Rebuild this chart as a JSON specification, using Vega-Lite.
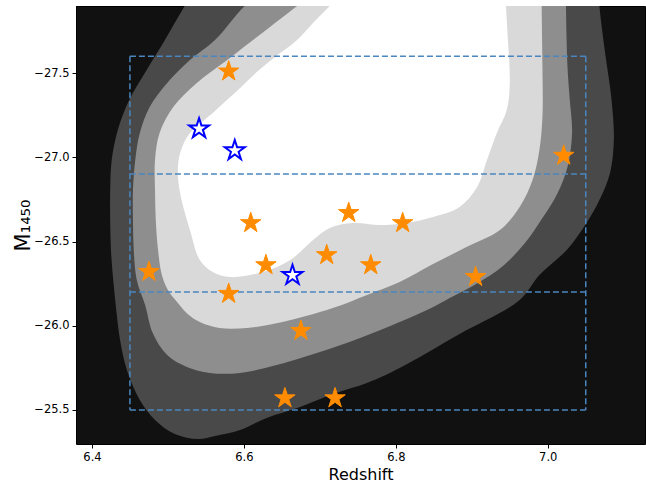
{
  "$schema": "https://vega.github.io/schema/vega-lite/v6.json",
  "width": 569,
  "height": 438,
  "autosize": {"type": "none"},
  "padding": {"left": 76, "top": 6, "right": 1, "bottom": 43},
  "background": "white",
  "view": {"fill": "#111111", "stroke": null},
  "datasets": {
    "contours": [
      {"level": 1, "i": 1, "z": 6.543, "M": -28.052},
      {"level": 1, "i": 2, "z": 6.522, "M": -27.898},
      {"level": 1, "i": 3, "z": 6.496, "M": -27.696},
      {"level": 1, "i": 4, "z": 6.472, "M": -27.518},
      {"level": 1, "i": 5, "z": 6.449, "M": -27.340},
      {"level": 1, "i": 6, "z": 6.434, "M": -27.162},
      {"level": 1, "i": 7, "z": 6.426, "M": -26.984},
      {"level": 1, "i": 8, "z": 6.424, "M": -26.806},
      {"level": 1, "i": 9, "z": 6.424, "M": -26.628},
      {"level": 1, "i": 10, "z": 6.425, "M": -26.450},
      {"level": 1, "i": 11, "z": 6.428, "M": -26.272},
      {"level": 1, "i": 12, "z": 6.432, "M": -26.093},
      {"level": 1, "i": 13, "z": 6.437, "M": -25.915},
      {"level": 1, "i": 14, "z": 6.446, "M": -25.737},
      {"level": 1, "i": 15, "z": 6.463, "M": -25.559},
      {"level": 1, "i": 16, "z": 6.483, "M": -25.441},
      {"level": 1, "i": 17, "z": 6.509, "M": -25.358},
      {"level": 1, "i": 18, "z": 6.540, "M": -25.328},
      {"level": 1, "i": 19, "z": 6.562, "M": -25.346},
      {"level": 1, "i": 20, "z": 6.595, "M": -25.381},
      {"level": 1, "i": 21, "z": 6.630, "M": -25.453},
      {"level": 1, "i": 22, "z": 6.674, "M": -25.518},
      {"level": 1, "i": 23, "z": 6.717, "M": -25.595},
      {"level": 1, "i": 24, "z": 6.762, "M": -25.660},
      {"level": 1, "i": 25, "z": 6.805, "M": -25.749},
      {"level": 1, "i": 26, "z": 6.884, "M": -25.951},
      {"level": 1, "i": 27, "z": 6.963, "M": -26.153},
      {"level": 1, "i": 28, "z": 6.989, "M": -26.301},
      {"level": 1, "i": 29, "z": 7.025, "M": -26.450},
      {"level": 1, "i": 30, "z": 7.051, "M": -26.610},
      {"level": 1, "i": 31, "z": 7.068, "M": -26.746},
      {"level": 1, "i": 32, "z": 7.082, "M": -26.907},
      {"level": 1, "i": 33, "z": 7.087, "M": -27.102},
      {"level": 1, "i": 34, "z": 7.084, "M": -27.340},
      {"level": 1, "i": 35, "z": 7.075, "M": -27.637},
      {"level": 1, "i": 36, "z": 7.068, "M": -27.898},
      {"level": 1, "i": 37, "z": 7.066, "M": -28.052},

      {"level": 2, "i": 1, "z": 6.642, "M": -28.052},
      {"level": 2, "i": 2, "z": 6.601, "M": -27.898},
      {"level": 2, "i": 3, "z": 6.562, "M": -27.696},
      {"level": 2, "i": 4, "z": 6.529, "M": -27.577},
      {"level": 2, "i": 5, "z": 6.499, "M": -27.441},
      {"level": 2, "i": 6, "z": 6.476, "M": -27.298},
      {"level": 2, "i": 7, "z": 6.463, "M": -27.144},
      {"level": 2, "i": 8, "z": 6.457, "M": -26.984},
      {"level": 2, "i": 9, "z": 6.454, "M": -26.806},
      {"level": 2, "i": 10, "z": 6.454, "M": -26.628},
      {"level": 2, "i": 11, "z": 6.455, "M": -26.450},
      {"level": 2, "i": 12, "z": 6.459, "M": -26.272},
      {"level": 2, "i": 13, "z": 6.470, "M": -26.123},
      {"level": 2, "i": 14, "z": 6.480, "M": -25.957},
      {"level": 2, "i": 15, "z": 6.499, "M": -25.826},
      {"level": 2, "i": 16, "z": 6.525, "M": -25.755},
      {"level": 2, "i": 17, "z": 6.555, "M": -25.720},
      {"level": 2, "i": 18, "z": 6.595, "M": -25.720},
      {"level": 2, "i": 19, "z": 6.638, "M": -25.761},
      {"level": 2, "i": 20, "z": 6.696, "M": -25.838},
      {"level": 2, "i": 21, "z": 6.753, "M": -25.927},
      {"level": 2, "i": 22, "z": 6.805, "M": -26.022},
      {"level": 2, "i": 23, "z": 6.841, "M": -26.093},
      {"level": 2, "i": 24, "z": 6.871, "M": -26.165},
      {"level": 2, "i": 25, "z": 6.908, "M": -26.254},
      {"level": 2, "i": 26, "z": 6.941, "M": -26.355},
      {"level": 2, "i": 27, "z": 6.970, "M": -26.491},
      {"level": 2, "i": 28, "z": 6.993, "M": -26.639},
      {"level": 2, "i": 29, "z": 7.013, "M": -26.788},
      {"level": 2, "i": 30, "z": 7.026, "M": -26.942},
      {"level": 2, "i": 31, "z": 7.032, "M": -27.144},
      {"level": 2, "i": 32, "z": 7.029, "M": -27.340},
      {"level": 2, "i": 33, "z": 7.026, "M": -27.536},
      {"level": 2, "i": 34, "z": 7.024, "M": -27.898},
      {"level": 2, "i": 35, "z": 7.024, "M": -28.052},

      {"level": 3, "i": 1, "z": 6.714, "M": -28.052},
      {"level": 3, "i": 2, "z": 6.670, "M": -27.898},
      {"level": 3, "i": 3, "z": 6.612, "M": -27.696},
      {"level": 3, "i": 4, "z": 6.578, "M": -27.577},
      {"level": 3, "i": 5, "z": 6.538, "M": -27.441},
      {"level": 3, "i": 6, "z": 6.507, "M": -27.298},
      {"level": 3, "i": 7, "z": 6.489, "M": -27.144},
      {"level": 3, "i": 8, "z": 6.483, "M": -26.984},
      {"level": 3, "i": 9, "z": 6.483, "M": -26.806},
      {"level": 3, "i": 10, "z": 6.484, "M": -26.628},
      {"level": 3, "i": 11, "z": 6.487, "M": -26.450},
      {"level": 3, "i": 12, "z": 6.492, "M": -26.301},
      {"level": 3, "i": 13, "z": 6.500, "M": -26.212},
      {"level": 3, "i": 14, "z": 6.512, "M": -26.141},
      {"level": 3, "i": 15, "z": 6.526, "M": -26.070},
      {"level": 3, "i": 16, "z": 6.542, "M": -26.022},
      {"level": 3, "i": 17, "z": 6.568, "M": -25.987},
      {"level": 3, "i": 18, "z": 6.604, "M": -25.987},
      {"level": 3, "i": 19, "z": 6.651, "M": -26.022},
      {"level": 3, "i": 20, "z": 6.717, "M": -26.105},
      {"level": 3, "i": 21, "z": 6.762, "M": -26.183},
      {"level": 3, "i": 22, "z": 6.805, "M": -26.260},
      {"level": 3, "i": 23, "z": 6.849, "M": -26.366},
      {"level": 3, "i": 24, "z": 6.893, "M": -26.467},
      {"level": 3, "i": 25, "z": 6.937, "M": -26.568},
      {"level": 3, "i": 26, "z": 6.963, "M": -26.705},
      {"level": 3, "i": 27, "z": 6.980, "M": -26.865},
      {"level": 3, "i": 28, "z": 6.989, "M": -27.043},
      {"level": 3, "i": 29, "z": 6.993, "M": -27.239},
      {"level": 3, "i": 30, "z": 6.993, "M": -27.536},
      {"level": 3, "i": 31, "z": 6.992, "M": -27.898},
      {"level": 3, "i": 32, "z": 6.992, "M": -28.052},

      {"level": 4, "i": 1, "z": 6.747, "M": -28.052},
      {"level": 4, "i": 2, "z": 6.713, "M": -27.898},
      {"level": 4, "i": 3, "z": 6.691, "M": -27.797},
      {"level": 4, "i": 4, "z": 6.670, "M": -27.696},
      {"level": 4, "i": 5, "z": 6.641, "M": -27.595},
      {"level": 4, "i": 6, "z": 6.617, "M": -27.506},
      {"level": 4, "i": 7, "z": 6.595, "M": -27.411},
      {"level": 4, "i": 8, "z": 6.559, "M": -27.263},
      {"level": 4, "i": 9, "z": 6.529, "M": -27.144},
      {"level": 4, "i": 10, "z": 6.516, "M": -27.025},
      {"level": 4, "i": 11, "z": 6.513, "M": -26.907},
      {"level": 4, "i": 12, "z": 6.516, "M": -26.788},
      {"level": 4, "i": 13, "z": 6.522, "M": -26.675},
      {"level": 4, "i": 14, "z": 6.529, "M": -26.568},
      {"level": 4, "i": 15, "z": 6.542, "M": -26.390},
      {"level": 4, "i": 16, "z": 6.559, "M": -26.319},
      {"level": 4, "i": 17, "z": 6.582, "M": -26.289},
      {"level": 4, "i": 18, "z": 6.625, "M": -26.319},
      {"level": 4, "i": 19, "z": 6.661, "M": -26.390},
      {"level": 4, "i": 20, "z": 6.691, "M": -26.509},
      {"level": 4, "i": 21, "z": 6.713, "M": -26.580},
      {"level": 4, "i": 22, "z": 6.743, "M": -26.610},
      {"level": 4, "i": 23, "z": 6.779, "M": -26.598},
      {"level": 4, "i": 24, "z": 6.814, "M": -26.610},
      {"level": 4, "i": 25, "z": 6.849, "M": -26.645},
      {"level": 4, "i": 26, "z": 6.884, "M": -26.705},
      {"level": 4, "i": 27, "z": 6.907, "M": -26.823},
      {"level": 4, "i": 28, "z": 6.920, "M": -26.984},
      {"level": 4, "i": 29, "z": 6.933, "M": -27.144},
      {"level": 4, "i": 30, "z": 6.946, "M": -27.280},
      {"level": 4, "i": 31, "z": 6.950, "M": -27.441},
      {"level": 4, "i": 32, "z": 6.947, "M": -27.737},
      {"level": 4, "i": 33, "z": 6.945, "M": -27.898},
      {"level": 4, "i": 34, "z": 6.943, "M": -28.052}
    ],
    "boxes": [
      {"z1": 6.45, "z2": 7.05, "M1": -27.6, "M2": -27.6},
      {"z1": 6.45, "z2": 7.05, "M1": -26.9, "M2": -26.9},
      {"z1": 6.45, "z2": 7.05, "M1": -26.2, "M2": -26.2},
      {"z1": 6.45, "z2": 7.05, "M1": -25.5, "M2": -25.5},
      {"z1": 6.45, "z2": 6.45, "M1": -27.6, "M2": -25.5},
      {"z1": 7.05, "z2": 7.05, "M1": -27.6, "M2": -25.5}
    ],
    "quasars": [
      {"z": 6.580, "M": -27.51, "sample": "A"},
      {"z": 6.609, "M": -26.61, "sample": "A"},
      {"z": 6.738, "M": -26.67, "sample": "A"},
      {"z": 6.809, "M": -26.61, "sample": "A"},
      {"z": 7.021, "M": -27.01, "sample": "A"},
      {"z": 6.475, "M": -26.32, "sample": "A"},
      {"z": 6.629, "M": -26.36, "sample": "A"},
      {"z": 6.709, "M": -26.42, "sample": "A"},
      {"z": 6.767, "M": -26.36, "sample": "A"},
      {"z": 6.905, "M": -26.29, "sample": "A"},
      {"z": 6.580, "M": -26.19, "sample": "A"},
      {"z": 6.675, "M": -25.97, "sample": "A"},
      {"z": 6.654, "M": -25.57, "sample": "A"},
      {"z": 6.720, "M": -25.57, "sample": "A"},
      {"z": 6.541, "M": -27.17, "sample": "B"},
      {"z": 6.588, "M": -27.04, "sample": "B"},
      {"z": 6.664, "M": -26.30, "sample": "B"}
    ]
  },
  "layer": [
    {
      "data": {"name": "contours"},
      "transform": [{"filter": "datum.level == 1"}],
      "mark": {"type": "line", "filled": true, "color": "#494949", "interpolate": "catmull-rom", "clip": true},
      "encoding": {
        "x": {"field": "z", "type": "quantitative", "scale": {"domain": [6.379, 7.128], "nice": false, "zero": false},
              "axis": {"orient": "bottom", "values": [6.4, 6.6, 6.8, 7.0], "format": ".1f", "title": "Redshift", "titlePadding": 4}},
        "y": {"field": "M", "type": "quantitative", "scale": {"domain": [-27.898, -25.298], "reverse": true, "nice": false, "zero": false},
              "axis": {"orient": "left", "values": [-27.5, -27.0, -26.5, -26.0, -25.5], "format": ".1f", "title": "M₁₄₅₀", "titleFontSize": 21, "titlePadding": 0}},
        "order": {"field": "i", "type": "quantitative"}
      }
    },
    {
      "data": {"name": "contours"},
      "transform": [{"filter": "datum.level == 2"}],
      "mark": {"type": "line", "filled": true, "color": "#8e8e8e", "interpolate": "catmull-rom", "clip": true},
      "encoding": {
        "x": {"field": "z", "type": "quantitative", "axis": null},
        "y": {"field": "M", "type": "quantitative", "axis": null},
        "order": {"field": "i", "type": "quantitative"}
      }
    },
    {
      "data": {"name": "contours"},
      "transform": [{"filter": "datum.level == 3"}],
      "mark": {"type": "line", "filled": true, "color": "#d9d9d9", "interpolate": "catmull-rom", "clip": true},
      "encoding": {
        "x": {"field": "z", "type": "quantitative", "axis": null},
        "y": {"field": "M", "type": "quantitative", "axis": null},
        "order": {"field": "i", "type": "quantitative"}
      }
    },
    {
      "data": {"name": "contours"},
      "transform": [{"filter": "datum.level == 4"}],
      "mark": {"type": "line", "filled": true, "color": "#ffffff", "interpolate": "catmull-rom", "clip": true},
      "encoding": {
        "x": {"field": "z", "type": "quantitative", "axis": null},
        "y": {"field": "M", "type": "quantitative", "axis": null},
        "order": {"field": "i", "type": "quantitative"}
      }
    },
    {
      "data": {"name": "boxes"},
      "mark": {"type": "rule", "color": "#4a86c0", "strokeWidth": 1.5, "strokeDash": [6, 3]},
      "encoding": {
        "x": {"field": "z1", "type": "quantitative", "axis": null},
        "x2": {"field": "z2"},
        "y": {"field": "M1", "type": "quantitative", "axis": null},
        "y2": {"field": "M2"}
      }
    },
    {
      "data": {"name": "quasars"},
      "transform": [{"filter": "datum.sample == 'A'"}],
      "mark": {"type": "point", "shape": "M0,-1L0.2245,-0.309L0.951,-0.309L0.363,0.118L0.588,0.809L0,0.382L-0.588,0.809L-0.363,0.118L-0.951,-0.309L-0.2245,-0.309Z", "size": 460, "filled": true, "fill": "#ff8c00", "stroke": "#ff8c00", "strokeWidth": 1, "opacity": 1},
      "encoding": {
        "x": {"field": "z", "type": "quantitative", "axis": null},
        "y": {"field": "M", "type": "quantitative", "axis": null}
      }
    },
    {
      "data": {"name": "quasars"},
      "transform": [{"filter": "datum.sample == 'B'"}],
      "mark": {"type": "point", "shape": "M0,-1L0.2245,-0.309L0.951,-0.309L0.363,0.118L0.588,0.809L0,0.382L-0.588,0.809L-0.363,0.118L-0.951,-0.309L-0.2245,-0.309Z", "size": 440, "filled": false, "fill": "white", "stroke": "#0000ff", "strokeWidth": 2, "opacity": 1},
      "encoding": {
        "x": {"field": "z", "type": "quantitative",
              "axis": {"orient": "top", "labels": false, "ticks": false, "title": null}},
        "y": {"field": "M", "type": "quantitative",
              "axis": {"orient": "right", "labels": false, "ticks": false, "title": null}}
      }
    }
  ],
  "resolve": {"axis": {"x": "independent", "y": "independent"}},
  "config": {
    "font": "DejaVu Sans",
    "axis": {
      "grid": false,
      "domainColor": "black",
      "domainWidth": 1,
      "tickColor": "black",
      "tickWidth": 1,
      "tickSize": 4,
      "labelColor": "black",
      "titleColor": "black",
      "labelFont": "DejaVu Sans",
      "titleFont": "DejaVu Sans",
      "labelFontSize": 11.5,
      "titleFontSize": 16,
      "titleFontWeight": "normal",
      "labelPadding": 3,
      "zindex": 1
    }
  }
}
